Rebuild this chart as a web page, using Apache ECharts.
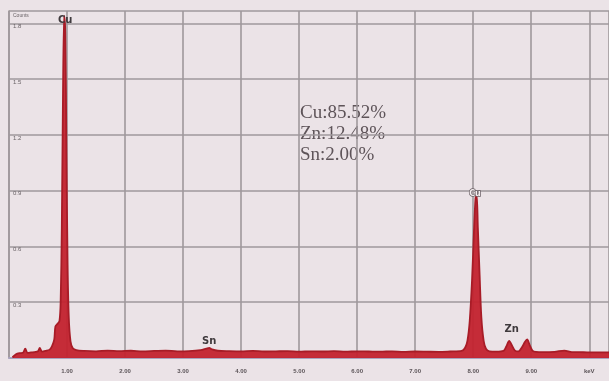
<!DOCTYPE html>
<html>
<head>
<meta charset="utf-8">
<script src="https://cdn.jsdelivr.net/npm/echarts@6/dist/echarts.min.js"></script>
<style>
  html, body { margin: 0; padding: 0; background: #ebe3e7; }
  #chart-wrapper { width: 609px; height: 381px; }
</style>
</head>
<body>
<div id="chart-wrapper"></div>
<script>
// spectrum: energy (keV) and counts (K)
const energy = [
  0.06, 0.12, 0.18, 0.24, 0.28, 0.32, 0.38, 0.44, 0.50, 0.53, 0.57, 0.63, 0.70,
  0.74, 0.78, 0.80, 0.84, 0.87, 0.89, 0.91, 0.93, 0.95, 0.97, 0.99, 1.01, 1.03,
  1.06, 1.10, 1.16, 1.30, 1.50, 1.70, 1.90, 2.10, 2.30, 2.50, 2.70, 2.90, 3.10,
  3.30, 3.40, 3.45, 3.50, 3.60, 3.80, 4.00, 4.20, 4.40, 4.60, 4.80, 5.00, 5.20,
  5.40, 5.60, 5.80, 6.00, 6.20, 6.40, 6.60, 6.80, 7.00, 7.20, 7.40, 7.60, 7.80,
  7.86, 7.90, 7.94, 7.98, 8.01, 8.04, 8.06, 8.08, 8.11, 8.14, 8.18, 8.22, 8.28,
  8.40, 8.52, 8.57, 8.62, 8.67, 8.72, 8.78, 8.84, 8.89, 8.93, 8.97, 9.02, 9.08,
  9.20, 9.40, 9.57, 9.70, 9.90, 10.10, 10.36
];
const counts = [
  0.004, 0.020, 0.026, 0.028, 0.050, 0.028, 0.030, 0.032, 0.036, 0.054, 0.034, 0.038, 0.045,
  0.062, 0.100, 0.170, 0.185, 0.200, 0.300, 0.700, 1.400, 1.840, 1.750, 1.100, 0.500, 0.220,
  0.090, 0.052, 0.042, 0.038, 0.036, 0.040, 0.037, 0.039, 0.036, 0.038, 0.040, 0.036, 0.037,
  0.042, 0.050, 0.054, 0.046, 0.039, 0.037, 0.036, 0.038, 0.035, 0.036, 0.037, 0.034, 0.036,
  0.035, 0.037, 0.034, 0.036, 0.035, 0.034, 0.036, 0.033, 0.035, 0.034, 0.033, 0.035, 0.038,
  0.055, 0.092, 0.200, 0.420, 0.660, 0.860, 0.875, 0.700, 0.450, 0.220, 0.092, 0.050, 0.036,
  0.034, 0.038, 0.062, 0.092, 0.066, 0.040, 0.036, 0.058, 0.086, 0.100, 0.072, 0.040, 0.033,
  0.032, 0.033, 0.040, 0.032, 0.031, 0.030, 0.030
];
const yTicks = [0, 0.3, 0.6, 0.9, 1.2, 1.5, 1.8];
const composition = ["Cu:85.52%", "Zn:12.48%", "Sn:2.00%"];
const peakLabels = [
  { name: "Cu", coord: [0.95, 1.84], offset: [1, 12] },
  { name: "Cu", coord: [8.03, 0.875], offset: [0, 5], white: true },
  { name: "Zn", coord: [8.68, 0.10], offset: [-1, -3] },
  { name: "Sn", coord: [3.45, 0.054], offset: [0, 0] }
];

const chartDom = document.getElementById("chart-wrapper");
const chart = echarts.init(chartDom);

const spectrum = energy.map((e, i) => [e, counts[i]]);

const gridColor = "#9f989c";

const option = {
  backgroundColor: "#ebe3e7",
  animation: false,
  grid: { left: 9, right: 0, top: 11, bottom: 23 },
  xAxis: {
    type: "value",
    min: 0,
    max: 10.34,
    interval: 1,
    axisLine: { show: true, lineStyle: { color: "#aaa3be", width: 2 } },
    axisTick: { show: false },
    splitLine: { show: true, lineStyle: { color: gridColor, width: 1.6 } },
    axisLabel: {
      margin: 10,
      fontSize: 6,
      fontWeight: "bold",
      color: "#5b5458",
      showMinLabel: false,
      showMaxLabel: false,
      formatter: (v) => (v === 10 ? "keV" : v.toFixed(2))
    }
  },
  yAxis: {
    type: "value",
    min: 0,
    max: 1.866,
    interval: 0.3,
    axisLine: { show: true, lineStyle: { color: gridColor, width: 1.6 } },
    axisTick: { show: false },
    splitLine: { show: true, lineStyle: { color: gridColor, width: 1.6 } },
    axisLabel: {
      inside: true,
      margin: 4,
      fontSize: 6,
      color: "#6a6367",
      verticalAlign: "top",
      showMinLabel: false,
      showMaxLabel: false,
      formatter: (v) => (yTicks.includes(+v.toFixed(1)) ? v.toFixed(1) : "")
    }
  },
  graphic: [
    {
      type: "text",
      left: 13,
      top: 13,
      style: { text: "Counts", fontSize: 5, fill: "#6a6367" }
    },
    {
      type: "text",
      left: 300,
      top: 103,
      style: {
        text: composition.join("\n"),
        font: "19px 'Liberation Serif', serif",
        lineHeight: 21,
        fill: "#5e5459"
      }
    }
  ],
  series: [
    {
      type: "line",
      data: spectrum,
      symbol: "none",
      smooth: 0.3,
      lineStyle: { color: "#a81c27", width: 1.8 },
      areaStyle: { color: "#c3222e", opacity: 0.95 },
      markPoint: {
        symbol: "circle",
        symbolSize: 0,
        data: peakLabels.map((p) => ({
          name: p.name,
          coord: p.coord,
          label: p.white
            ? { offset: p.offset, color: "#f4eef0", fontSize: 8, textBorderColor: "#6b6166", textBorderWidth: 1.5 }
            : { offset: p.offset }
        })),
        label: {
          show: true,
          position: "top",
          distance: 2,
          formatter: "{b}",
          fontFamily: "DejaVu Sans",
          fontSize: 10,
          fontWeight: "bold",
          color: "#3f3a3d"
        }
      }
    }
  ]
};

chart.setOption(option);
</script>
</body>
</html>
